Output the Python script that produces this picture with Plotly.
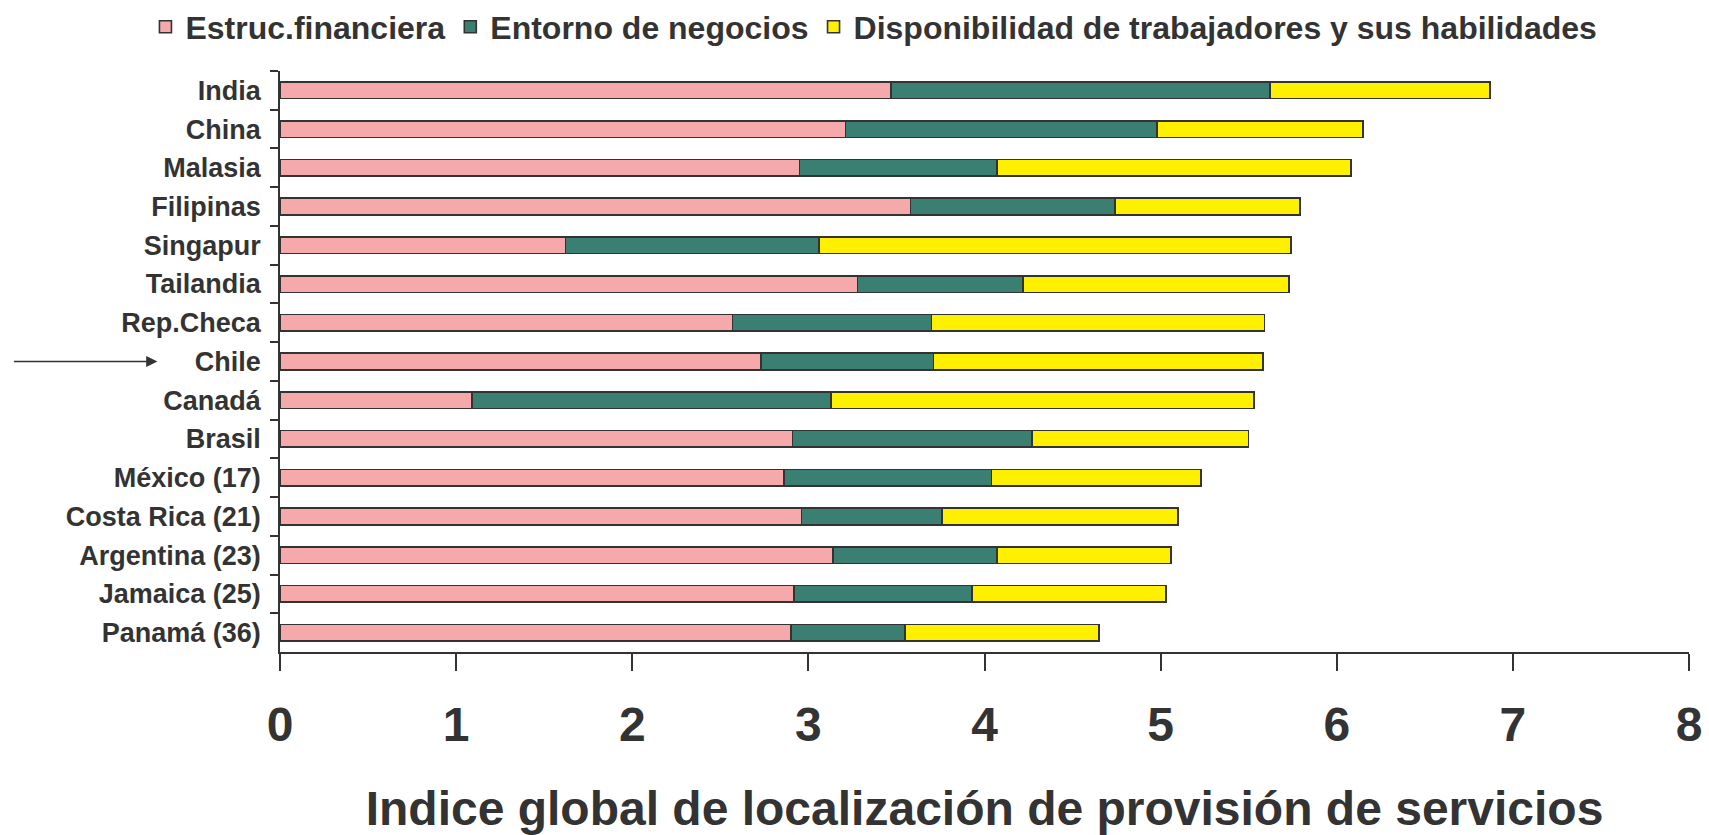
import plotly.graph_objects as go

countries = ["India", "China", "Malasia", "Filipinas", "Singapur", "Tailandia",
             "Rep.Checa", "Chile", "Canadá", "Brasil", "México (17)",
             "Costa Rica (21)", "Argentina (23)", "Jamaica (25)", "Panamá (36)"]
estruc_financiera = [3.47, 3.21, 2.95, 3.58, 1.62, 3.28, 2.57, 2.73, 1.09, 2.91,
                     2.86, 2.96, 3.14, 2.92, 2.90]
entorno_negocios = [2.15, 1.77, 1.12, 1.16, 1.44, 0.94, 1.13, 0.98, 2.04, 1.36,
                    1.18, 0.80, 0.93, 1.01, 0.65]
disponibilidad = [1.25, 1.17, 2.01, 1.05, 2.68, 1.51, 1.89, 1.87, 2.40, 1.23,
                  1.19, 1.34, 0.99, 1.10, 1.10]
series_names = ["Estruc.financiera", "Entorno de negocios",
                "Disponibilidad de trabajadores y sus habilidades"]
x_ticks = [0, 1, 2, 3, 4, 5, 6, 7, 8]

colors = ["#F5A9AB", "#3A7F72", "#FFF000"]
TXT = "#333333"
FONT = "Liberation Sans, Arial, sans-serif"

fig = go.Figure()
for name, vals, col in zip(series_names,
                           [estruc_financiera, entorno_negocios, disponibilidad],
                           colors):
    fig.add_trace(go.Bar(
        y=countries, x=vals, name=name, orientation="h",
        marker=dict(color=col, line=dict(color="#333333", width=1.6)),
        width=0.43,
    ))

fig.add_annotation(
    x=-0.087, xref="paper", y="Chile", yref="y",
    ax=-145, ay=0, axref="pixel", ayref="pixel",
    text="", showarrow=True, arrowhead=2, arrowsize=1.6, arrowwidth=1.4,
    arrowcolor="#333333",
)

fig.update_layout(
    width=1709, height=835,
    barmode="stack",
    paper_bgcolor="white", plot_bgcolor="white",
    margin=dict(l=280, r=20, t=71, b=183, autoexpand=False),
    font=dict(family=FONT, color=TXT, weight="bold"),
    showlegend=True,
    legend=dict(
        orientation="h", x=-0.0955, xref="paper", xanchor="left",
        y=1.0757, yref="paper", yanchor="middle",
        font=dict(size=32, family=FONT, color=TXT, weight="bold"),
        itemwidth=30, traceorder="normal",
    ),
    xaxis=dict(
        range=[0, 8], tickvals=x_ticks, ticktext=[str(v) for v in x_ticks],
        showgrid=False, zeroline=False,
        showline=True, linecolor="#333333", linewidth=1.6,
        ticks="outside", ticklen=17, tickwidth=1.6, tickcolor="#333333",
        tickfont=dict(size=48, family=FONT, color=TXT, weight="bold"),
        ticklabelstandoff=13,
        title=dict(text="Indice global de localización de provisión de servicios",
                   font=dict(size=48, family=FONT, color=TXT, weight="bold"),
                   standoff=52),
    ),
    yaxis=dict(
        categoryorder="array", categoryarray=countries, autorange="reversed",
        showgrid=False, zeroline=False,
        showline=True, linecolor="#333333", linewidth=1.6,
        ticks="outside", tickson="boundaries", ticklen=8, tickwidth=1.6,
        tickcolor="#333333",
        tickfont=dict(size=27, family=FONT, color=TXT, weight="bold"),
        ticklabelstandoff=12,
    ),
)

fig.write_html("out.html", config={"displayModeBar": False},
               post_script="document.body.style.margin='0';document.body.style.overflow='hidden';")
